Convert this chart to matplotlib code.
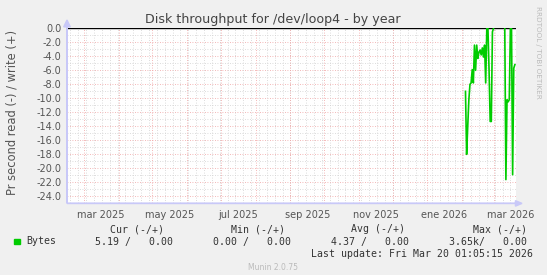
import numpy as np
import matplotlib
matplotlib.use("Agg")
import matplotlib.pyplot as plt
import matplotlib.dates as mdates
from datetime import datetime, timedelta

# ---- data ----
start_day = datetime(2026, 2, 4)
read_values = [-9.0, -18.0, -14.0, -10.2, -8.0, -7.8, -5.9, -7.8, -2.4, -6.0,
               -2.4, -4.3, -3.4, -3.1, -3.8, -2.8, -4.1, -2.4, -7.8, 0.0,
               0.0, -6.0, -13.3, -13.3, -0.5, 0.0, np.nan, np.nan, np.nan, np.nan,
               np.nan, np.nan, np.nan, np.nan, np.nan, 0.0, -21.6, -10.2, -10.5, -10.2,
               0.0, 0.0, -20.9, -5.7, -5.19]
dates = [start_day + timedelta(days=i) for i in range(len(read_values))]

xtick_labels = ["mar 2025", "may 2025", "jul 2025", "sep 2025", "nov 2025", "ene 2026", "mar 2026"]
xtick_dates = [datetime(2025, 3, 16), datetime(2025, 5, 16), datetime(2025, 7, 16),
               datetime(2025, 9, 16), datetime(2025, 11, 16), datetime(2026, 1, 16),
               datetime(2026, 3, 16)]
ytick_values = [0, -2, -4, -6, -8, -10, -12, -14, -16, -18, -20, -22, -24]

legend_headers = ["Cur (-/+)", "Min (-/+)", "Avg (-/+)", "Max (-/+)"]
legend_values = ["5.19 /   0.00", "0.00 /   0.00", "4.37 /   0.00", "3.65k/   0.00"]
series_name = "Bytes"

# ---- figure ----
W, H = 547, 275
fig = plt.figure(figsize=(W / 100, H / 100), dpi=100)
fig.patch.set_facecolor("#F0F0F0")

def fx(x):
    return x / W

def fy(y):
    return 1 - y / H

L, R, T, B = 67, 516, 28.3, 203.4
ax = fig.add_axes([fx(L), fy(B), fx(R) - fx(L), fy(T) - fy(B)])
ax.set_facecolor("white")
x0 = datetime(2025, 2, 14)
x1 = datetime(2026, 3, 21)
ax.set_xlim(x0, x1)
ax.set_ylim(-25, 0)

# grid
for v in np.arange(-25, 0.1, 1.0):
    if v in ytick_values:
        ax.axhline(v, color="#F0A0A0", lw=0.6, ls=(0, (1, 2)), zorder=1)
    else:
        ax.axhline(v, color="#D0D0D0", lw=0.6, ls=(0, (1, 2)), zorder=1)
# weekly minor lines
d = datetime(2025, 2, 17)
while d < x1:
    ax.axvline(d, color="#D0D0D0", lw=0.6, ls=(0, (1, 2)), zorder=1)
    d += timedelta(days=7)
# monthly major lines
for y in (2025, 2026):
    for m in range(1, 13):
        dd = datetime(y, m, 1)
        if x0 < dd < x1:
            ax.axvline(dd, color="#F0A0A0", lw=0.6, ls=(0, (1, 2)), zorder=1)

ax.axhline(0, color="black", lw=1.0, zorder=2)
ax.plot(dates, read_values, color="#00CC00", lw=1.2, zorder=3)

for s in ax.spines.values():
    s.set_visible(False)
ax.set_xticks(xtick_dates)
ax.set_xticklabels(xtick_labels)
ax.set_yticks(ytick_values)
ax.set_yticklabels([f"{v:.1f}" for v in ytick_values])
ax.tick_params(axis="both", length=0, labelsize=7, colors="#555555", pad=4)
ax.tick_params(axis="x", pad=5)

# axis lines with arrows
axis_col = "#C8C8F8"
fig.add_artist(matplotlib.patches.FancyArrow(fx(L), fy(B), fx(522) - fx(L), 0,
               width=0.0, head_width=0.02, head_length=0.012, color=axis_col,
               length_includes_head=True, transform=fig.transFigure))
fig.add_artist(matplotlib.patches.FancyArrow(fx(L), fy(B), 0, fy(20) - fy(B),
               width=0.0, head_width=0.012, head_length=0.025, color=axis_col,
               length_includes_head=True, transform=fig.transFigure))

# texts
fig.text(fx(273), fy(19), "Disk throughput for /dev/loop4 - by year", ha="center", va="center",
         fontsize=9.1, color="#444444")
fig.text(fx(12), fy(112), "Pr second read (-) / write (+)", rotation=90, ha="center", va="center",
         fontsize=8.3, color="#555555")
fig.text(fx(538), fy(52), "RRDTOOL / TOBI OETIKER", rotation=270, ha="center", va="center",
         fontsize=5.2, color="#BBBBBB")

mono = dict(family="DejaVu Sans Mono", fontsize=7.1, color="#333333", va="center")
header_right = [164, 285, 405, 527]
value_right = [173, 291, 409, 527]
for h, xr in zip(legend_headers, header_right):
    fig.text(fx(xr), fy(229), h, ha="right", **mono)
for v, xr in zip(legend_values, value_right):
    fig.text(fx(xr), fy(241.5), v, ha="right", **mono)
fig.add_artist(matplotlib.patches.Rectangle((fx(14), fy(244)), fx(5.5), fy(238.5) - fy(244),
               transform=fig.transFigure, color="#00CC00"))
fig.text(fx(26), fy(241.5), series_name, ha="left", **mono)
fig.text(fx(533), fy(254.3), "Last update: Fri Mar 20 01:05:15 2026", ha="right", **mono)
fig.text(fx(273), fy(267.5), "Munin 2.0.75", ha="center", va="center", fontsize=5.5, color="#BBBBBB")

fig.savefig("out.png", dpi=100, facecolor=fig.get_facecolor())
